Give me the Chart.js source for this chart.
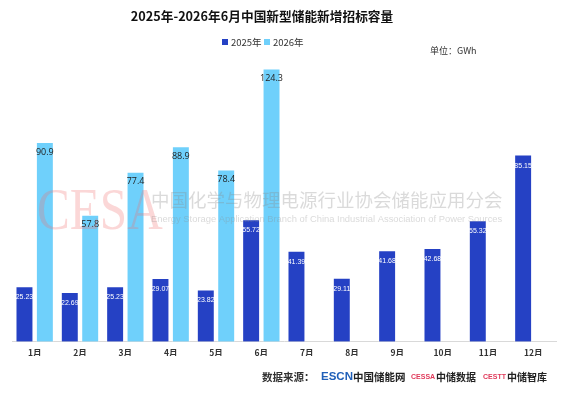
<!DOCTYPE html>
<html>
<head>
<meta charset="utf-8">
<title>2025年-2026年6月中国新型储能新增招标容量</title>
<script src="https://cdn.jsdelivr.net/npm/chart.js@4.4.1/dist/chart.umd.min.js"></script>
<style>
  html, body { margin: 0; padding: 0; background: #fff; }
  #wrap { width: 566px; height: 400px; }
</style>
</head>
<body>
<div id="wrap"><canvas id="myChart"></canvas></div>
<script>
// 数据
var months = ['1月', '2月', '3月', '4月', '5月', '6月', '7月', '8月', '9月', '10月', '11月', '12月'];
var data2025 = [25.23, 22.69, 25.23, 29.07, 23.82, 55.72, 41.39, 29.11, 41.68, 42.68, 55.32, 85.15];
var data2026 = [90.9, 57.8, 77.4, 88.9, 78.4, 124.3, null, null, null, null, null, null];
var seriesNames = ['2025年', '2026年'];
var titleText = '2025年-2026年6月中国新型储能新增招标容量';
var unitText = '单位：GWh';

var darkBlue = '#2541c4';
var lightBlue = '#6fd0fb';
var cjk = '"Noto Sans CJK SC", "Noto Sans", sans-serif';

// 标题、图例、水印、数据来源
var decor = {
    id: 'decor',
    beforeDraw: function(chart) {
        var ctx = chart.ctx;
        ctx.save();
        ctx.fillStyle = '#111';
        ctx.font = 'bold 12.7px ' + cjk;
        ctx.textAlign = 'center';
        ctx.textBaseline = 'middle';
        ctx.fillText(titleText, 262, 16);

        // 图例
        ctx.font = '9.5px ' + cjk;
        ctx.textAlign = 'left';
        ctx.fillStyle = darkBlue;
        ctx.fillRect(222, 39, 6, 6);
        ctx.fillStyle = '#333';
        ctx.fillText(seriesNames[0], 231, 42);
        ctx.fillStyle = lightBlue;
        ctx.fillRect(264, 39, 6, 6);
        ctx.fillStyle = '#333';
        ctx.fillText(seriesNames[1], 273, 42);

        ctx.font = '9px ' + cjk;
        ctx.fillText(unitText, 430, 51);
        ctx.restore();
    },
    afterDatasetsDraw: function(chart) {
        var ctx = chart.ctx;
        ctx.save();
        // 数值标签
        ctx.textAlign = 'center';
        ctx.textBaseline = 'middle';
        chart.getDatasetMeta(0).data.forEach(function(bar, i) {
            ctx.fillStyle = '#fff';
            ctx.font = '7px "Liberation Sans Narrow", "Liberation Sans", sans-serif';
            ctx.fillText(data2025[i].toFixed(2), bar.x, bar.y + 11);
        });
        chart.getDatasetMeta(1).data.forEach(function(bar, i) {
            if (data2026[i] == null) return;
            ctx.fillStyle = '#222';
            ctx.font = '9px "Open Sans", sans-serif';
            ctx.fillText(data2026[i].toFixed(1), bar.x, bar.y + 10);
        });

        // 水印
        ctx.textBaseline = 'alphabetic';
        ctx.textAlign = 'left';
        ctx.save();
        ctx.translate(37, 229);
        ctx.scale(0.82, 1);
        ctx.fillStyle = 'rgba(240,110,110,0.28)';
        ctx.font = '60px "Liberation Serif", serif';
        ctx.fillText('CESA', 0, 0);
        ctx.restore();
        ctx.fillStyle = 'rgba(140,140,140,0.32)';
        ctx.font = '18.5px ' + cjk;
        ctx.fillText('中国化学与物理电源行业协会储能应用分会', 151, 207);
        ctx.font = '9.4px "Liberation Sans", sans-serif';
        ctx.fillText('Energy Storage Application Branch of China Industrial Association of Power Sources', 151, 222);

        // 数据来源
        ctx.textBaseline = 'middle';
        ctx.fillStyle = '#333';
        ctx.font = 'bold 10.5px ' + cjk;
        ctx.fillText('数据来源：', 262, 377);
        ctx.fillStyle = '#1f5fb8';
        ctx.font = 'bold 11.5px "Liberation Sans", sans-serif';
        ctx.fillText('ESCN', 321, 377);
        ctx.fillStyle = '#222';
        ctx.font = 'bold 10.5px ' + cjk;
        ctx.fillText('中国储能网', 353, 377);
        ctx.fillStyle = '#e03a5a';
        ctx.font = 'bold 7px "Liberation Sans", sans-serif';
        ctx.fillText('CESSA', 411, 377);
        ctx.fillStyle = '#222';
        ctx.font = 'bold 10px ' + cjk;
        ctx.fillText('中储数据', 436, 377);
        ctx.fillStyle = '#e03a5a';
        ctx.font = 'bold 7px "Liberation Sans", sans-serif';
        ctx.fillText('CESTT', 483, 377);
        ctx.fillStyle = '#222';
        ctx.font = 'bold 10px ' + cjk;
        ctx.fillText('中储智库', 507, 377);
        ctx.restore();
    }
};

var ctx = document.getElementById('myChart').getContext('2d');
var chart = new Chart(ctx, {
    type: 'bar',
    data: {
        labels: months,
        datasets: [
            { label: seriesNames[0], data: data2025, backgroundColor: darkBlue, borderColor: 'rgba(255,255,255,0.5)', borderWidth: 1 },
            { label: seriesNames[1], data: data2026, backgroundColor: lightBlue, borderColor: 'rgba(255,255,255,0.5)', borderWidth: 1 }
        ]
    },
    options: {
        responsive: true,
        maintainAspectRatio: false,
        animation: false,
        categoryPercentage: 0.9,
        barPercentage: 0.88,
        layout: { padding: { top: 56, left: 12, right: 10, bottom: 44 } },
        plugins: {
            legend: { display: false },
            title: { display: false },
            tooltip: { enabled: false }
        },
        scales: {
            x: {
                grid: { display: false },
                border: { color: '#d9d9d9' },
                ticks: { color: '#333', font: { size: 8.5, family: cjk, weight: 'bold' }, padding: -2 }
            },
            y: {
                display: false,
                min: 0,
                max: 130
            }
        }
    },
    plugins: [decor]
});
</script>
</body>
</html>
